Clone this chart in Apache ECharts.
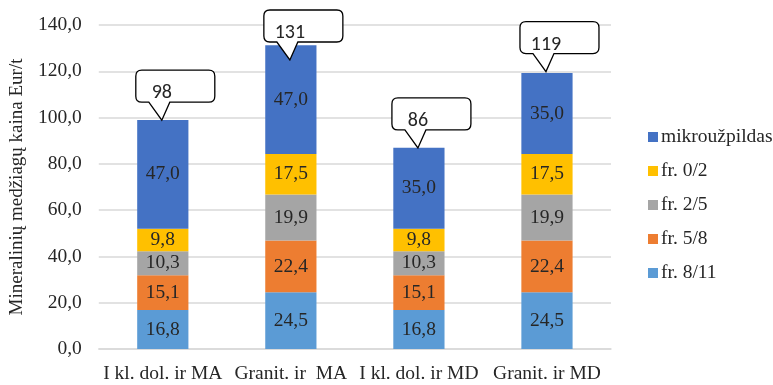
<!DOCTYPE html>
<html>
<head>
<meta charset="utf-8">
<script src="https://cdn.jsdelivr.net/npm/echarts@6/dist/echarts.min.js"></script>
<style>
  html, body { margin: 0; padding: 0; background: #ffffff; }
  #chart { width: 773px; height: 385px; }
</style>
</head>
<body>
<div id="chart"></div>
<script>
// Mineral material price per tonne, split by fraction
const categories = ['I kl. dol. ir MA', 'Granit. ir  MA', 'I kl. dol. ir MD', 'Granit. ir MD'];
const fr811 = [16.8, 24.5, 16.8, 24.5];
const fr58 = [15.1, 22.4, 15.1, 22.4];
const fr25 = [10.3, 19.9, 10.3, 19.9];
const fr02 = [9.8, 17.5, 9.8, 17.5];
const mikro = [47.0, 47.0, 35.0, 35.0];
const totals = [98, 131, 86, 119];
const yTicks = { min: 0, max: 140, step: 20 };

const serif = "'Liberation Serif', 'Times New Roman', serif";
const sans = "Carlito, 'Liberation Sans', Arial, sans-serif";
const textColor = '#262626';

const fmt = v => Number(v).toFixed(1).replace('.', ',');

function stackSeries(name, data, color) {
  return {
    name: name,
    type: 'bar',
    stack: 'total',
    barWidth: '40%',
    data: data,
    itemStyle: { color: color },
    label: {
      show: true,
      position: 'inside',
      fontFamily: serif,
      fontSize: 19.5,
      color: textColor,
      formatter: p => fmt(p.value)
    }
  };
}

// Speech-bubble callout pointing at the top of each stack
function renderCallout(params, api) {
  const p = api.coord([api.value(0), api.value(1)]);
  let tx = p[0] - 1;
  let ty = p[1] - 2;
  const w = 79, h = 32, r = 6, gap = 18;
  let B = ty - gap;
  let T = B - h;
  const minTop = 10;
  if (T < minTop) {
    const d = minTop - T;
    T += d; B += d; ty += d;
  }
  const L = tx - 26, R = L + w;
  const path =
    'M' + (L + r) + ',' + T +
    ' H' + (R - r) + ' Q' + R + ',' + T + ' ' + R + ',' + (T + r) +
    ' V' + (B - r) + ' Q' + R + ',' + B + ' ' + (R - r) + ',' + B +
    ' H' + (tx + 8) + ' L' + tx + ',' + ty + ' L' + (tx - 13) + ',' + B +
    ' H' + (L + r) + ' Q' + L + ',' + B + ' ' + L + ',' + (B - r) +
    ' V' + (T + r) + ' Q' + L + ',' + T + ' ' + (L + r) + ',' + T + ' Z';
  return {
    type: 'group',
    children: [
      {
        type: 'path',
        shape: { pathData: path },
        style: { fill: '#ffffff', stroke: '#000000', lineWidth: 1.3 }
      },
      {
        type: 'text',
        style: {
          text: String(api.value(1)),
          x: tx,
          y: (T + B) / 2 + 7,
          align: 'center',
          verticalAlign: 'middle',
          font: '20px ' + sans,
          fill: textColor
        }
      }
    ]
  };
}

const chart = echarts.init(document.getElementById('chart'), null, { renderer: 'canvas' });
chart.setOption({
  animation: false,
  backgroundColor: '#ffffff',
  grid: { left: 97, right: 162, top: 25, bottom: 36, containLabel: false },
  legend: {
    orient: 'vertical',
    left: 643,
    top: 122,
    itemWidth: 10,
    itemHeight: 10,
    itemGap: 14,
    icon: 'rect',
    data: ['mikroužpildas', 'fr. 0/2', 'fr. 2/5', 'fr. 5/8', 'fr. 8/11'],
    textStyle: { fontFamily: serif, fontSize: 19.5, color: textColor, lineHeight: 19, padding: [0, 0, 0, -2] }
  },
  xAxis: {
    type: 'category',
    data: categories,
    axisLine: { show: true, lineStyle: { color: '#d9d9d9', width: 1.5 } },
    axisTick: { show: false },
    axisLabel: { fontFamily: serif, fontSize: 19.5, color: textColor, margin: 15, interval: 0 }
  },
  yAxis: {
    type: 'value',
    min: yTicks.min,
    max: yTicks.max,
    interval: yTicks.step,
    name: 'Mineralinių medžiagų kaina Eur/t',
    nameLocation: 'middle',
    nameGap: 62,
    nameRotate: 90,
    nameTextStyle: { fontFamily: serif, fontSize: 19, color: textColor },
    axisLine: { show: false },
    axisTick: { show: false },
    splitLine: { lineStyle: { color: '#d9d9d9', width: 1.5 } },
    axisLabel: { fontFamily: serif, fontSize: 19.5, color: textColor, margin: 17, formatter: v => fmt(v) }
  },
  series: [
    stackSeries('fr. 8/11', fr811, '#5b9bd5'),
    stackSeries('fr. 5/8', fr58, '#ed7d31'),
    stackSeries('fr. 2/5', fr25, '#a5a5a5'),
    stackSeries('fr. 0/2', fr02, '#ffc000'),
    stackSeries('mikroužpildas', mikro, '#4472c4'),
    {
      type: 'custom',
      name: 'sumos',
      renderItem: renderCallout,
      data: totals.map((t, i) => [i, t]),
      encode: { x: 0, y: 1 },
      z: 10,
      silent: true
    }
  ]
});
</script>
</body>
</html>
